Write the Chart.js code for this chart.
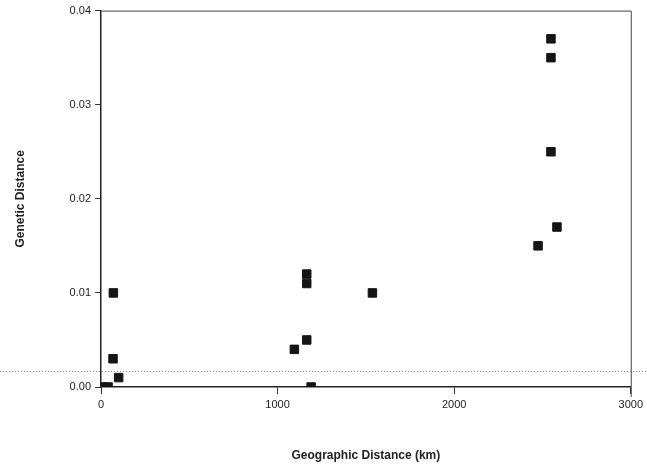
<!DOCTYPE html>
<html>
<head>
<meta charset="utf-8">
<script src="https://cdn.jsdelivr.net/npm/chart.js@4/dist/chart.umd.min.js"></script>
<style>
  html, body { margin: 0; padding: 0; background: #fff; }
  #wrap { width: 647px; height: 471px; }
</style>
</head>
<body>
<div id="wrap"><canvas id="myChart" width="647" height="471"></canvas></div>
<script>
// Genetic vs geographic distance
var geoKm = [10, 40, 70, 68, 100, 1095, 1165, 1165, 1165, 1190, 1537, 2475, 2582, 2548, 2548, 2548];
var genDist = [0, 0, 0.010, 0.003, 0.001, 0.004, 0.012, 0.011, 0.005, 0, 0.010, 0.015, 0.017, 0.025, 0.035, 0.037];
var xTicks = [0, 1000, 2000, 3000];
var yTicks = [0, 0.01, 0.02, 0.03, 0.04];
var refLine = 0.0017;

var points = geoKm.map(function (x, i) { return { x: x, y: genDist[i] }; });

// frame on top/right + dotted reference line across the page
var framePlugin = {
    id: 'frame',
    afterDraw: function (chart) {
        var c = chart.ctx, a = chart.chartArea;
        var yRef = chart.scales.y.getPixelForValue(refLine);
        c.save();
        c.strokeStyle = '#888';
        c.lineWidth = 1;
        c.setLineDash([1, 2]);
        c.beginPath();
        c.moveTo(0, Math.round(yRef) + 0.5);
        c.lineTo(chart.width, Math.round(yRef) + 0.5);
        c.stroke();
        c.setLineDash([]);
        c.strokeStyle = '#444';
        c.beginPath();
        c.moveTo(a.left, a.top + 0.5);
        c.lineTo(a.right + 0.5, a.top + 0.5);
        c.lineTo(a.right + 0.5, a.bottom + 10);
        c.stroke();
        c.restore();
    }
};

var ctx = document.getElementById('myChart').getContext('2d');
var myChart = new Chart(ctx, {
    type: 'scatter',
    data: {
        datasets: [{
            label: 'Genetic Distance',
            data: points,
            pointStyle: 'rect',
            pointRadius: 6,
            pointHoverRadius: 6,
            backgroundColor: '#151515',
            borderColor: '#151515',
            borderWidth: 1
        }]
    },
    options: {
        responsive: false,
        animation: false,
        layout: { padding: { top: 10, right: 15, left: 0, bottom: 0 } },
        plugins: {
            legend: { display: false },
            tooltip: { enabled: false }
        },
        scales: {
            x: {
                type: 'linear',
                min: 0,
                max: 3000,
                afterBuildTicks: function (s) { s.ticks = xTicks.map(function (v) { return { value: v }; }); },
                afterFit: function (s) { s.height = 84; },
                ticks: {
                    color: '#222',
                    padding: 4,
                    callback: function (v) { return String(v); },
                    font: { family: 'Liberation Sans, Arial, sans-serif', size: 11 }
                },
                grid: {
                    drawOnChartArea: false,
                    drawTicks: true,
                    tickLength: 7,
                    color: '#333'
                },
                border: { color: '#222', width: 1.5 },
                title: {
                    display: true,
                    text: 'Geographic Distance (km)',
                    color: '#222',
                    padding: { top: 0, bottom: 8 },
                    font: { family: 'Liberation Sans, Arial, sans-serif', size: 12, weight: 'bold' }
                }
            },
            y: {
                type: 'linear',
                min: 0,
                max: 0.04,
                afterBuildTicks: function (s) { s.ticks = yTicks.map(function (v) { return { value: v }; }); },
                afterFit: function (s) { s.width = 101; },
                ticks: {
                    color: '#222',
                    padding: 4,
                    callback: function (v) { return v.toFixed(2); },
                    font: { family: 'Liberation Sans, Arial, sans-serif', size: 11 }
                },
                grid: {
                    drawOnChartArea: false,
                    drawTicks: true,
                    tickLength: 6,
                    color: '#333'
                },
                border: { color: '#222', width: 1.5 },
                title: {
                    display: true,
                    text: 'Genetic Distance',
                    color: '#222',
                    padding: { top: 13, bottom: 0 },
                    font: { family: 'Liberation Sans, Arial, sans-serif', size: 12, weight: 'bold' }
                }
            }
        }
    },
    plugins: [framePlugin]
});
</script>
</body>
</html>
